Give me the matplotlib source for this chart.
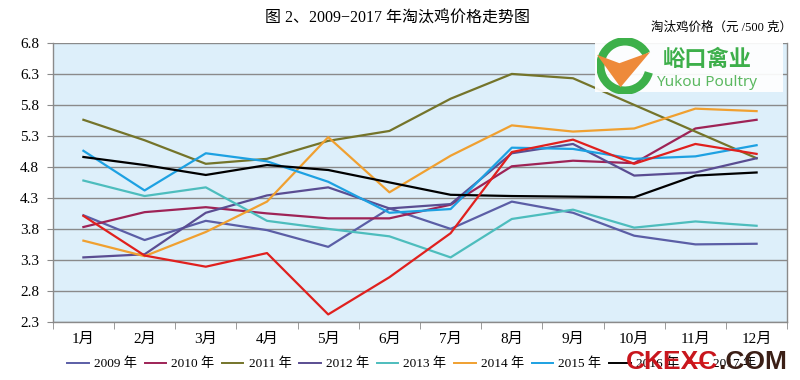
import matplotlib
matplotlib.use("Agg")
import matplotlib.pyplot as plt
from matplotlib.patches import Rectangle, Arc, Polygon
from matplotlib import font_manager
import numpy as np

plt.rcParams['font.family'] = ['Liberation Serif', 'Noto Sans CJK SC', 'DejaVu Sans']

months = ["1月", "2月", "3月", "4月", "5月", "6月", "7月", "8月", "9月", "10月", "11月", "12月"]
years = ["2009 年", "2010 年", "2011 年", "2012 年", "2013 年", "2014 年", "2015 年", "2016 年", "2017 年"]

y2009 = [4.02, 3.62, 3.93, 3.78, 3.51, 4.13, 3.80, 4.24, 4.06, 3.69, 3.55, 3.56]
y2010 = [3.83, 4.07, 4.15, 4.05, 3.97, 3.97, 4.19, 4.81, 4.90, 4.86, 5.42, 5.56]
y2011 = [5.56, 5.23, 4.85, 4.93, 5.22, 5.38, 5.90, 6.30, 6.23, 5.80, 5.37, 4.94]
y2012 = [3.34, 3.39, 4.06, 4.34, 4.47, 4.13, 4.20, 5.02, 5.17, 4.66, 4.71, 4.94]
y2013 = [4.58, 4.33, 4.47, 3.93, 3.80, 3.68, 3.34, 3.96, 4.11, 3.82, 3.92, 3.85]
y2014 = [3.61, 3.36, 3.75, 4.24, 5.28, 4.39, 4.98, 5.47, 5.37, 5.42, 5.74, 5.70]
y2015 = [5.06, 4.42, 5.02, 4.89, 4.56, 4.06, 4.12, 5.11, 5.09, 4.93, 4.97, 5.15]
y2016 = [4.96, 4.83, 4.67, 4.83, 4.75, 4.55, 4.35, 4.33, 4.32, 4.31, 4.66, 4.71]
y2017 = [4.01, 3.37, 3.19, 3.41, 2.42, 3.02, 3.73, 5.04, 5.24, 4.85, 5.17, 5.01]

series = [y2009, y2010, y2011, y2012, y2013, y2014, y2015, y2016, y2017]
colors = ["#5B5EA6", "#9E2356", "#74742A", "#5A4D92", "#4DBDBD", "#F0A030", "#1DA1E2", "#000000", "#E0201E"]

yticks = [2.3, 2.8, 3.3, 3.8, 4.3, 4.8, 5.3, 5.8, 6.3, 6.8]

fig = plt.figure(figsize=(8, 3.8), dpi=100)
ax = fig.add_axes([0.066, 0.153, 0.918, 0.734])
ax.set_facecolor("#DDEFFA")

x = np.arange(len(months))
handles = []
for s, c, lab in zip(series, colors, years):
    h, = ax.plot(x, s, color=c, lw=1.6, label=lab, zorder=3)
    handles.append(h)

ax.set_xlim(-0.5, len(months) - 0.5)
ax.set_ylim(2.3, 6.8)
ax.set_yticks(yticks)
ax.set_yticklabels([f"{v:.1f}" for v in yticks], fontsize=11)
ax.yaxis.grid(True, color="#8A8A8A", lw=1.0, zorder=1)
ax.set_axisbelow(True)

ax.set_xticks(x)
ax.set_xticklabels(months, fontsize=11)
ax.tick_params(axis='x', which='major', length=0, pad=8)
ax.set_xticks(np.arange(-0.5, len(months) + 0.5, 1), minor=True)
ax.tick_params(axis='x', which='minor', length=5, color="#8A8A8A", direction='out')
ax.tick_params(axis='y', length=4, color="#8A8A8A", direction='out', pad=6)

for sp in ['left', 'bottom', 'right', 'top']:
    ax.spines[sp].set_color("#8A8A8A")
    ax.spines[sp].set_linewidth(1.0)
ax.spines['top'].set_visible(False)

fig.text(0.497, 0.952, "图 2、2009−2017 年淘汰鸡价格走势图", ha='center', va='center',
         fontsize=11.5, family=['Liberation Serif', 'Noto Sans CJK SC'])
fig.text(0.99, 0.928, "淘汰鸡价格（元 /500 克）", ha='right', va='center',
         fontsize=9, family=['Liberation Serif', 'Noto Sans CJK SC'])

leg = fig.legend(handles=handles, labels=years, loc='center', bbox_to_anchor=(0.515, 0.042),
                 ncol=9, frameon=False, fontsize=9.5, handlelength=1.6, handletextpad=0.4,
                 columnspacing=0.6, borderaxespad=0)
for lh in leg.get_lines():
    lh.set_linewidth(1.4)

W, H = 800, 380
def fx(px):
    return px / W
def fy(py):
    return 1 - py / H

# Logo box
fig.patches.append(Rectangle((fx(595), fy(92)), fx(188), 52 / H, transform=fig.transFigure,
                             facecolor="white", edgecolor="none", alpha=0.92, zorder=5))
axl = fig.add_axes([fx(597), fy(94), fx(56), 56 / H], zorder=6)
axl.set_xlim(0, 1)
axl.set_ylim(0, 1)
axl.axis('off')
axl.add_patch(Arc((0.5, 0.5), 0.88, 0.88, theta1=30, theta2=345, color="#3DB04A", lw=6))
axl.add_patch(Polygon([[0.0, 0.70], [0.40, 0.55], [0.95, 0.75], [0.42, 0.12]],
                      closed=True, facecolor="#EE8A3A", edgecolor="none"))
fig.text(fx(707), fy(60), "峪口禽业", ha='center', va='center', fontsize=16, color="#3DAF4A",
         family=['Noto Sans CJK SC'], fontweight='bold', zorder=7)
fig.text(fx(707), fy(83), "Yukou Poultry", ha='center', va='center', fontsize=11, color="#5BB860",
         family=['Noto Sans', 'DejaVu Sans'], zorder=7)

# watermark
names = {f.name for f in font_manager.fontManager.ttflist}
if 'Liberation Sans Narrow' in names:
    wm_family, wm_size = ['Liberation Sans Narrow'], 23
else:
    wm_family, wm_size = ['Liberation Sans', 'DejaVu Sans'], 19
t1 = fig.text(fx(626), fy(369), "CKEXC", ha='left', va='baseline', fontsize=wm_size, color="#C8161D",
              family=wm_family, fontweight='bold', zorder=8)
fig.canvas.draw()
bb = t1.get_window_extent(renderer=fig.canvas.get_renderer())
fig.text(bb.x1 / W, fy(369), ".COM", ha='left', va='baseline', fontsize=wm_size, color="#3B1F16",
         family=wm_family, fontweight='bold', zorder=8)

fig.savefig("out.png", dpi=100)
